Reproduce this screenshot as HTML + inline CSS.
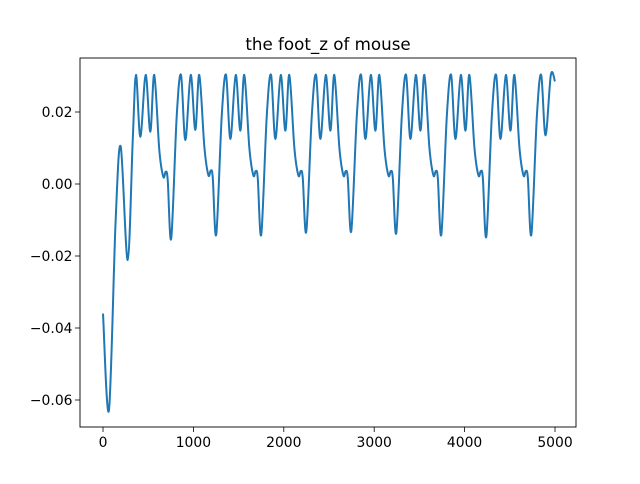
<!DOCTYPE html>
<html><head><meta charset="utf-8"><style>
body{margin:0;background:#fff;font-family:"DejaVu Sans","Liberation Sans",sans-serif}
svg text{font-family:"DejaVu Sans","Liberation Sans",sans-serif;fill:#000}
</style></head><body>
<svg id="chart" width="640" height="480" xmlns="http://www.w3.org/2000/svg">
<rect width="640" height="480" fill="#fff"/>
<text x="328" y="50" font-size="16.7" text-anchor="middle">the foot_z of mouse</text>
<g id="plot"></g>
<rect x="80" y="58" width="496" height="369" fill="none" stroke="#000" stroke-width="0.9"/>
<g id="axes"></g>
</svg>
<script>
const xTicks=[0,1000,2000,3000,4000,5000];
const yTicks=[0.02,0.00,-0.02,-0.04,-0.06];
const yTickLabels=["0.02","0.00","\u22120.02","\u22120.04","\u22120.06"];
const xs=[0,66,140,196,273,329,
365,413,472,523,567,623,667,694,716,755,815,
863,911,970,1021,1065,1121,1165,1192,1214,1253,1313,
1361,1409,1468,1519,1563,1619,1663,1690,1712,1751,1811,
1859,1907,1966,2017,2061,2117,2161,2188,2210,2249,2309,
2357,2405,2464,2515,2559,2615,2659,2686,2708,2747,2807,
2855,2903,2962,3013,3057,3113,3157,3184,3206,3245,3305,
3353,3401,3460,3511,3555,3611,3655,3682,3704,3743,3803,
3851,3899,3958,4009,4053,4109,4153,4180,4202,4241,4301,
4349,4397,4456,4507,4551,4607,4651,4678,4700,4739,4799,
4847,4895,4954,5000];
const ys=[-0.036,-0.0628,-0.010,0.0104,-0.0211,0.0122,
0.0303,0.0131,0.0303,0.0145,0.0303,0.0094,0.0020,0.0034,0.0011,-0.0151,0.0187,
0.0303,0.0122,0.0303,0.0150,0.0303,0.0104,0.0025,0.0037,0.0018,-0.0140,0.0187,
0.0303,0.0125,0.0303,0.0148,0.0303,0.0100,0.0024,0.0036,0.0016,-0.0140,0.0187,
0.0303,0.0125,0.0303,0.0148,0.0303,0.0100,0.0024,0.0036,0.0016,-0.0132,0.0187,
0.0303,0.0125,0.0303,0.0148,0.0303,0.0100,0.0024,0.0036,0.0016,-0.0130,0.0187,
0.0303,0.0125,0.0303,0.0148,0.0303,0.0100,0.0024,0.0036,0.0016,-0.0135,0.0187,
0.0303,0.0125,0.0303,0.0148,0.0303,0.0100,0.0024,0.0036,0.0016,-0.0140,0.0187,
0.0303,0.0125,0.0303,0.0148,0.0303,0.0100,0.0024,0.0036,0.0016,-0.0145,0.0187,
0.0303,0.0125,0.0303,0.0148,0.0303,0.0100,0.0024,0.0036,0.0016,-0.0140,0.0187,
0.0303,0.0135,0.0303,0.0285];
const NS="http://www.w3.org/2000/svg";
function sx(v){return 103+(v)*0.0904;}
function sy(v){return 184-v*3600;}
const axes=document.getElementById('axes'),plot=document.getElementById('plot');
function mk(t,a,p){const e=document.createElementNS(NS,t);for(const k in a)e.setAttribute(k,a[k]);p.appendChild(e);return e;}
xTicks.forEach(v=>{const x=sx(v);
 const l=mk('line',{x1:x,x2:x,y1:427,y2:432,stroke:'#000','stroke-width':0.8},axes);
 
 
 const t=mk('text',{x:x,y:447,'font-size':13.9,'text-anchor':'middle'},axes);t.textContent=v;
 
 });
yTicks.forEach((v,i)=>{const y=sy(v);
 const l=mk('line',{x1:75,x2:80,y1:y,y2:y,stroke:'#000','stroke-width':0.8},axes);
 
 
 const t=mk('text',{x:72.5,y:y+5,'font-size':13.9,'text-anchor':'end'},axes);t.textContent=yTickLabels[i];
 
 });
const P=xs.map((x,i)=>[sx(x),sy(ys[i])]);
let d='M'+P[0][0]+','+P[0][1];
for(let i=0;i<P.length-1;i++){const p0=P[i-1]||P[i],p1=P[i],p2=P[i+1],p3=P[i+2]||p2;
 const c1=[p1[0]+(p2[0]-p0[0])/6,p1[1]+(p2[1]-p0[1])/6],c2=[p2[0]-(p3[0]-p1[0])/6,p2[1]-(p3[1]-p1[1])/6];
 d+=' C'+c1[0]+','+c1[1]+' '+c2[0]+','+c2[1]+' '+p2[0]+','+p2[1];}
const path=mk('path',{d:d,fill:'none',stroke:'#1f77b4','stroke-width':2,'stroke-linejoin':'round'},plot);


</script>
</body></html>
